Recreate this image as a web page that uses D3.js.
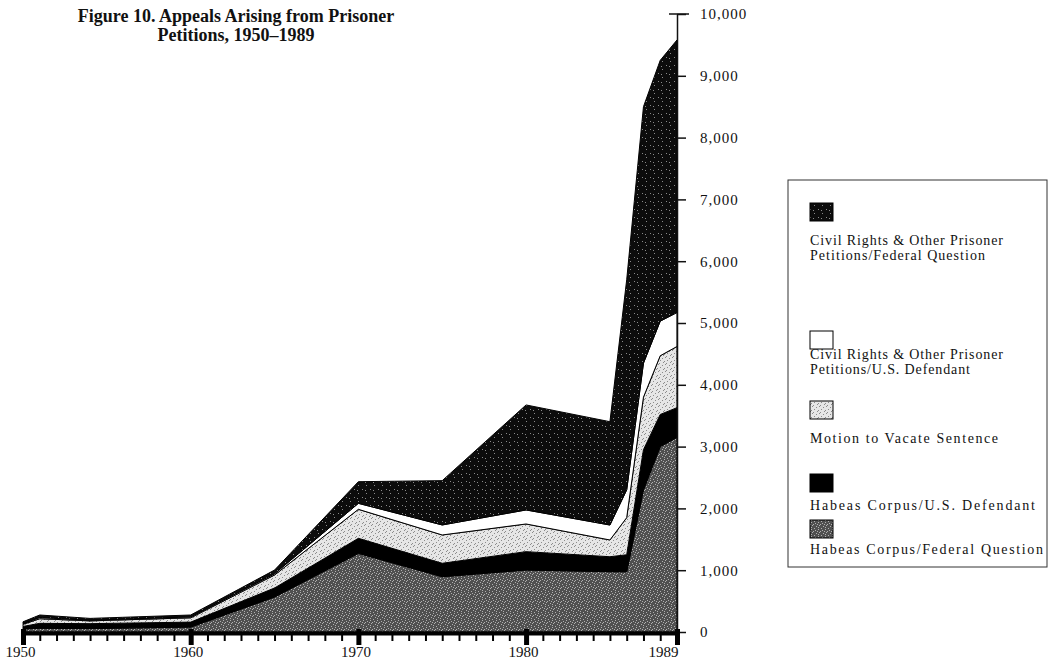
<!DOCTYPE html>
<html><head><meta charset="utf-8">
<script src="https://cdn.jsdelivr.net/npm/d3@7"></script>
<style>
body{margin:0;background:#fff}
text{font-family:"Liberation Serif","DejaVu Serif",serif;fill:#111}
</style>
</head><body><svg id="c" width="1051" height="665"></svg>
<script>
// ---- data ----
const years          = [1950,1951,1954,1960,1965,1970,1975,1980,1985,1986,1987,1988,1989];
const habeasFederal  = [  50,  60,  55,  80, 566,1273, 895,1003, 976, 975,2300,3000,3150];
const habeasUS       = [  40,  80,  80,  80, 146, 243, 217, 297, 242, 275, 650, 520, 480];
const motionVacate   = [  35,  75,  45,  70, 210, 469, 458, 448, 271, 600, 850, 950, 990];
const civilUS        = [  10,  20,  10,  15,  20,  97, 162, 227, 242, 450, 550, 560, 550];
const civilFederal   = [  30,  40,  30,  30,  60, 350, 717,1699,1672,3400,4150,4220,4410];
const seriesKeys  = ["hcfq","hcus","mvs","crus","crfq"];
const legendLabels = [
  ["Civil Rights & Other Prisoner","Petitions/Federal Question"],
  ["Civil Rights & Other Prisoner","Petitions/U.S. Defendant"],
  ["Motion to Vacate Sentence"],
  ["Habeas Corpus/U.S. Defendant"],
  ["Habeas Corpus/Federal Question"]
];
const legendKeys = ["crfq","crus","mvs","hcus","hcfq"];
const yTickValues = [0,1000,2000,3000,4000,5000,6000,7000,8000,9000,10000];
const xLabelYears = [1950,1960,1970,1980,1989];
const titleLines = ["Figure 10. Appeals Arising from Prisoner","Petitions, 1950\u20131989"];

// ---- build ----
const svg = d3.select("#c");
const defs = svg.append("defs");
function stipple(id, base, dot, pts, size){
  const p = defs.append("pattern").attr("id",id).attr("patternUnits","userSpaceOnUse")
    .attr("width",size).attr("height",size);
  p.append("rect").attr("width",size).attr("height",size).attr("fill",base);
  pts.forEach(([a,b])=>p.append("rect").attr("x",a).attr("y",b).attr("width",1).attr("height",1).attr("fill",dot));
}
stipple("p-hcfq","#505050","#b0b0b0",[[0,0],[4,1],[2,3],[6,4],[1,6],[5,6],[3,5],[6,2]],7);
stipple("p-crfq","#0c0c0c","#8a8a8a",[[2,1],[6,5],[5,2]],8);
stipple("p-mvs","#e6e6e6","#8c8c8c",[[0,0],[4,1],[2,3],[6,4],[1,6],[5,5]],7);
const fills = {hcfq:"url(#p-hcfq)",hcus:"#000",mvs:"url(#p-mvs)",crus:"#fff",crfq:"url(#p-crfq)"};

const table = years.map((yr,i)=>({year:yr,hcfq:habeasFederal[i],hcus:habeasUS[i],mvs:motionVacate[i],crus:civilUS[i],crfq:civilFederal[i]}));
const stack = d3.stack().keys(seriesKeys)(table);

const x = d3.scaleLinear().domain([1950,1989]).range([23,677]);
const y = d3.scaleLinear().domain([0,10000]).range([632,14]);

const area = d3.area().x(d=>x(d.data.year)).y0(d=>y(d[0])).y1(d=>y(d[1]));
svg.append("g").selectAll("path").data(stack).join("path")
  .attr("d",area).attr("fill",d=>fills[d.key])
  .attr("stroke","#000").attr("stroke-width",1).attr("stroke-linejoin","round");

// y axis (right side)
const yAxis = d3.axisRight(y).tickValues(yTickValues).tickFormat(d3.format(",")).tickSize(9).tickSizeOuter(0).tickPadding(14);
const gy = svg.append("g").attr("transform",`translate(${x(1989)},0)`).call(yAxis);
gy.select(".domain").attr("stroke","#111").attr("stroke-width",1.5);
gy.selectAll(".tick line").attr("stroke","#111").attr("stroke-width",1.5);
gy.selectAll(".tick text").style("font-family","Liberation Serif, serif").style("font-size","15px")
  .style("letter-spacing","1px").attr("fill","#111");
svg.append("line").attr("x1",x(1989)-8).attr("x2",x(1989)+12).attr("y1",y(10000)).attr("y2",y(10000))
  .attr("stroke","#111").attr("stroke-width",1.5);

// x axis
const xAxis = d3.axisBottom(x).tickValues(d3.range(1950,1990)).tickSize(8).tickSizeOuter(0)
  .tickFormat(d=>xLabelYears.includes(d)?String(d):"").tickPadding(5);
const gx = svg.append("g").attr("transform",`translate(0,${y(0)+1})`).call(xAxis);
gx.select(".domain").attr("stroke","#000").attr("stroke-width",4);
gx.selectAll(".tick line").attr("stroke","#000").attr("stroke-width",2);
gx.selectAll(".tick").filter(d=>xLabelYears.includes(d)).select("line")
  .attr("stroke-width",5).attr("y1",-4).attr("y2",12);
gx.selectAll(".tick text").style("font-family","Liberation Serif, serif").style("font-size","15px").attr("fill","#111")
  .attr("dx",d=>d===1989?-14:-3);

// title
svg.append("g").selectAll("text").data(titleLines).join("text")
  .attr("x",236).attr("y",(d,i)=>22+i*19).attr("text-anchor","middle")
  .style("font-size","18px").style("font-weight","bold").text(d=>d);

// legend
const lg = svg.append("g");
lg.append("rect").attr("x",788).attr("y",180).attr("width",259).attr("height",387)
  .attr("fill","none").attr("stroke","#333").attr("stroke-width",1);
const swY = [203,331,401,474,520];
const txY = [245,359,443,510,554];
const txW = [[193,175],[193,160],[188],[225],[233]];
legendKeys.forEach((k,i)=>{
  lg.append("rect").attr("x",810).attr("y",swY[i]).attr("width",23).attr("height",18)
    .attr("fill",fills[k]).attr("stroke","#000").attr("stroke-width",1);
  legendLabels[i].forEach((t,j)=>{
    lg.append("text").attr("x",810).attr("y",txY[i]+j*15).style("font-size","14px")
      .attr("textLength",txW[i][j]).attr("lengthAdjust","spacing").text(t);
  });
});
</script></body></html>
